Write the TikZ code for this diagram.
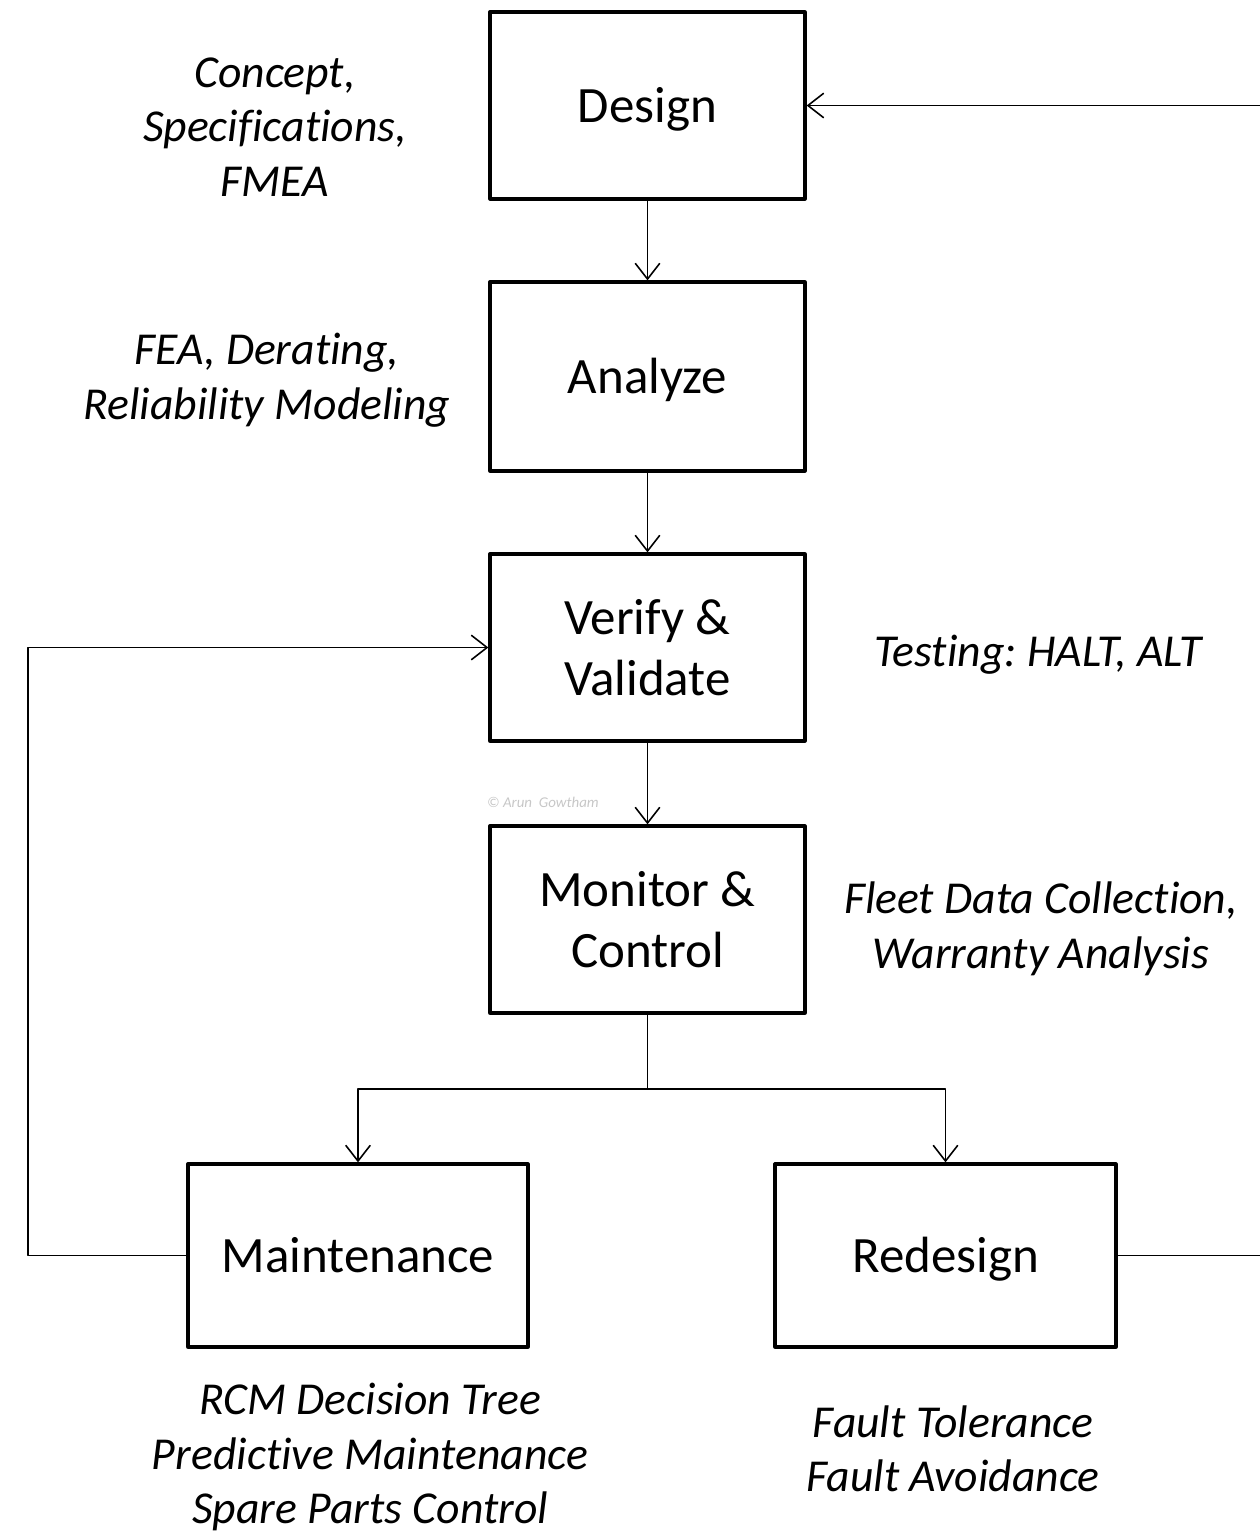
\documentclass[tikz,border=0pt]{standalone}
\usepackage{fontspec}
\setmainfont[Ligatures=NoCommon]{Carlito}
\usetikzlibrary{arrows.meta,positioning}

\newcommand{\dropdown}[1]{\raisebox{-2pt}[\height][\depth]{#1}}

\tikzset{
  stagebox/.style={draw,line width=1.9pt,minimum width=6.3cm,minimum height=3.74cm,
    align=center,font=\fontsize{29}{35}\selectfont},
  notes/.style={align=center,font=\fontsize{26}{31}\selectfont\itshape\frenchspacing},
  link/.style={line width=0.9pt,-{Straight Barb[length=9pt,width=14pt,line width=0.9pt]}}
}

\begin{document}
\begin{tikzpicture}[x=0.02cm,y=-0.02cm,line join=round]
\useasboundingbox (0,0) rectangle (1260,1532);
% stages
\node[stagebox] (design) at (647.5,105.5) {\dropdown{Design}};
\node[stagebox,minimum height=3.78cm] (analyze) at (647.5,376.5) {\dropdown{Analyze}};
\node[stagebox] (verify) at (647.5,647.5) {Verify \&\\Validate};
\node[stagebox] (monitor) at (647.5,919.5) {Monitor \&\\Control};
\node[stagebox,minimum width=6.8cm,minimum height=3.66cm] (maint) at (358,1255.5) {Maintenance};
\node[stagebox,minimum width=6.82cm,minimum height=3.66cm] (redesign) at (945.5,1255.5) {\dropdown{Redesign}};
% notes
\node[notes] (n1) at (275,127) {Concept,\\Specifications,\\FMEA};
\node[notes] (n2) at (267,380) {FEA, Derating,\\Reliability Modeling};
\node[notes] (n3) at (1038,655) {Testing: HALT, ALT};
\node[notes] (n4) at (1041,929) {Fleet Data Collection,\\Warranty Analysis};
\node[notes] (n5) at (370,1457) {RCM Decision Tree\\Predictive Maintenance\\Spare Parts Control};
\node[notes] (n6) at (953,1449) {Fault Tolerance\\Fault Avoidance};
\node[text=black!22,font=\fontsize{8.5}{9}\selectfont\itshape] (mark) at (543,802) {\textcopyright{} Arun\ \ Gowtham};
% helper points
\coordinate (split) at (647.5,1089);
\coordinate (leftdn) at (28,1255.5);
\coordinate (leftup) at (28,647.5);
\coordinate (rightdn) at (1260,1255.5);
\coordinate (rightup) at (1260,105.5);
% connectors
\foreach \a/\b in {design/analyze,analyze/verify,verify/monitor}{\draw[link](\a)--(\b);}
\draw[line width=0.9pt] (monitor.south)--(split);
\draw[link] (split)-|(maint.north);
\draw[link] (split)-|(redesign.north);
\draw[link] (maint.west)--(leftdn)--(leftup)--(verify.west);
\draw[line width=0.9pt] (redesign.east)--(rightdn);
\draw[link] (rightup)--(design.east);
\end{tikzpicture}
\end{document}
